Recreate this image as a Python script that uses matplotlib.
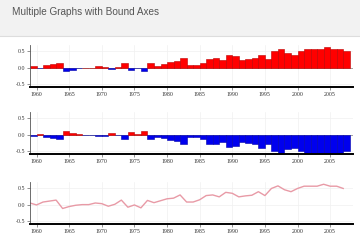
import matplotlib
matplotlib.use('Agg')
import matplotlib.pyplot as plt
from matplotlib.patches import Rectangle
import numpy as np

# yearly anomaly values
years = list(range(1959, 2008))
values = [0.05, -0.01, 0.08, 0.11, 0.14, -0.12, -0.06, -0.02, 0.0, 0.0,
          0.05, 0.03, -0.05, 0.01, 0.14, -0.08, -0.01, -0.10, 0.13, 0.06,
          0.12, 0.18, 0.20, 0.30, 0.08, 0.08, 0.15, 0.28, 0.30, 0.24,
          0.38, 0.35, 0.24, 0.27, 0.29, 0.40, 0.28, 0.50, 0.58, 0.46,
          0.40, 0.50, 0.57, 0.57, 0.57, 0.63, 0.57, 0.57, 0.50]
xticks = [1960, 1965, 1970, 1975, 1980, 1985, 1990, 1995, 2000, 2005]
yticks = [-0.5, 0.0, 0.5]

W, H = 360, 252
fig = plt.figure(figsize=(W / 100, H / 100), dpi=100, facecolor='white')

# header band
fig.patches.append(Rectangle((0, 1 - 36 / H), 1, 36 / H, transform=fig.transFigure,
                             facecolor='#f2f2f2', edgecolor='none', zorder=0))
fig.add_artist(plt.Line2D([0, 1], [1 - 36 / H] * 2, transform=fig.transFigure,
                          color='#dddddd', lw=0.8))
fig.text(12 / W, 1 - 12 / H, 'Multiple Graphs with Bound Axes', fontsize=7.2,
         family='Liberation Sans', color='#555555', va='center', ha='left')


def make_ax(top, bottom):
    ax = fig.add_axes([30 / W, 1 - bottom / H, 323 / W, (bottom - top) / H])
    ax.set_xlim(1959, 2008.5)
    ax.set_ylim(-0.6, 0.7)
    ax.set_xticks(xticks)
    ax.set_yticks(yticks)
    ax.set_yticklabels(['-0.5', '0.0', '0.5'])
    for lab in ax.get_xticklabels() + ax.get_yticklabels():
        lab.set_family('Liberation Serif')
        lab.set_fontsize(4.2)
        lab.set_color('#333333')
    ax.tick_params(axis='both', length=2, width=0.5, pad=1.5, color='#666666')
    ax.spines['top'].set_visible(False)
    ax.spines['right'].set_visible(False)
    ax.spines['left'].set_color('#555555')
    ax.spines['left'].set_linewidth(0.6)
    ax.spines['bottom'].set_color('black')
    ax.spines['bottom'].set_linewidth(1.4)
    ax.grid(True, color='#f0f0f0', lw=0.5)
    ax.set_axisbelow(True)
    return ax


vals = np.array(values)

# panel 1: values as bars
ax1 = make_ax(45, 87)
ax1.axhline(0, color='#999999', lw=0.6, zorder=1)
cols = ['#ff0000' if v >= 0 else '#0000ee' for v in vals]
edges = ['#bb0000' if v >= 0 else '#0000aa' for v in vals]
ax1.bar(years, vals, width=1, align='edge', color=cols, edgecolor=edges, lw=0.4, zorder=2)

# panel 2: negated values
ax2 = make_ax(112, 154)
ax2.axhline(0, color='#999999', lw=0.6, zorder=1)
neg = -vals
cols = ['#ff0000' if v > 0 else '#0000ee' for v in neg]
edges = ['#bb0000' if v > 0 else '#0000aa' for v in neg]
ax2.bar(years, neg, width=1, align='edge', color=cols, edgecolor=edges, lw=0.4, zorder=2)

# panel 3: line
ax3 = make_ax(182, 224)
ax3.plot(years, vals, color='#e89aa6', lw=1.0, zorder=2)

fig.savefig('out.png', dpi=100, facecolor=fig.get_facecolor())
